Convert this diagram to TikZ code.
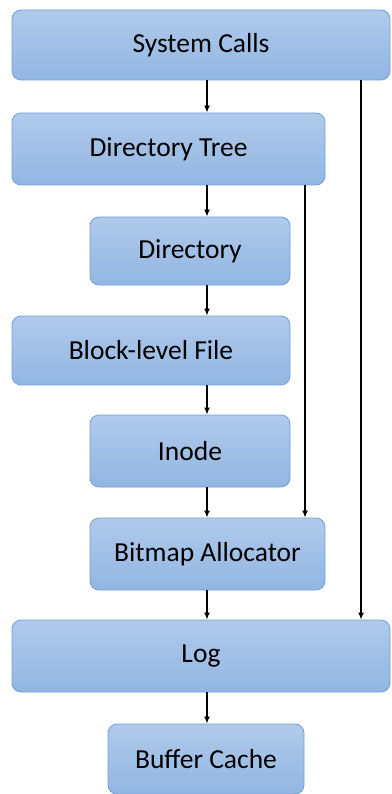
\documentclass[tikz,border=0pt]{standalone}
\usepackage{fontspec}
\setmainfont{Carlito}
\usetikzlibrary{arrows.meta, positioning}
\definecolor{boxtop}{RGB}{176,202,234}
\definecolor{boxbottom}{RGB}{146,182,226}
\definecolor{boxline}{RGB}{112,160,218}

\begin{document}
\begin{tikzpicture}[x=1pt, y=-1pt, >={Latex[length=7pt, width=6pt]},
                    layer/.style = {draw = boxline, line width=0.8pt,
                                    rounded corners=9pt,
                                    top color = boxtop,
                                    bottom color = boxbottom,
                                    font=\fontsize{27.5}{30}\selectfont,
                                    inner sep=0pt},
                    link/.style = {->, line width=1.4pt}
                   ]

    \useasboundingbox (0,0) rectangle (391,794);

    % the boxes, top to bottom
    \node[layer, minimum width=378pt, minimum height=70pt] (sys)   at (201,45)  {System Calls};
    \node[layer, minimum width=313pt, minimum height=72pt] (dtree) at (168.5,149) {Directory Tree};
    \node[layer, minimum width=200pt, minimum height=68pt] (dir)   at (190,251) {Directory};
    \node[layer, minimum width=278pt, minimum height=69pt] (blk)   at (151,350.5) {Block-level File};
    \node[layer, minimum width=200pt, minimum height=72pt] (inode) at (190,451) {Inode};
    \node[layer, minimum width=235pt, minimum height=72pt] (bmap)  at (207.5,554) {Bitmap Allocator};
    \node[layer, minimum width=378pt, minimum height=72pt] (log)   at (201,656) {Log};
    \node[layer, minimum width=196pt, minimum height=70pt] (bcache) at (206,759) {Buffer Cache};

    % columns for the connectors
    \coordinate (spine) at (207,0);
    \coordinate (skip)  at (305,0);
    \coordinate (bypass) at (361,0);

    \draw[link] (sys.south -| spine)   -- (dtree.north -| spine);
    \draw[link] (dtree.south -| spine) -- (dir.north -| spine);
    \draw[link] (dir.south -| spine)   -- (blk.north -| spine);
    \draw[link] (blk.south -| spine)   -- (inode.north -| spine);
    \draw[link] (inode.south -| spine) -- (bmap.north -| spine);
    \draw[link] (bmap.south -| spine)  -- (log.north -| spine);
    \draw[link] (log.south -| spine)   -- (bcache.north -| spine);

    \draw[link] (dtree.south -| skip) -- (bmap.north -| skip);
    \draw[link] (sys.south -| bypass) -- (log.north -| bypass);

\end{tikzpicture}
\end{document}
